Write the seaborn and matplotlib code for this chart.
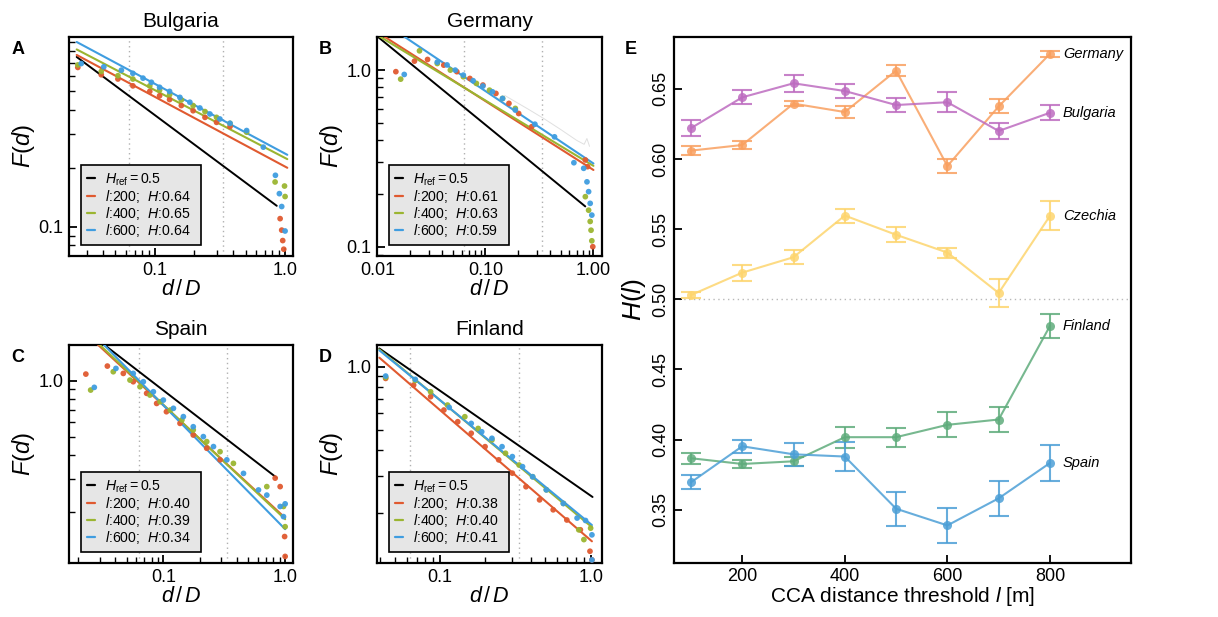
import numpy as np
import pandas as pd
import matplotlib
matplotlib.use("Agg")
import matplotlib.pyplot as plt
import seaborn as sns
from matplotlib.lines import Line2D
from matplotlib.ticker import FixedLocator, FixedFormatter, LogLocator, NullFormatter

# ---------------- data: panel A (Bulgaria) ----------------
BG_D_200 = [0.0257, 0.0389, 0.0522, 0.068, 0.0916, 0.109, 0.130, 0.160, 0.197, 0.243, 0.298, 0.378, 0.916, 0.942, 0.959, 0.977]
BG_F_200 = [0.662, 0.607, 0.577, 0.532, 0.498, 0.473, 0.452, 0.421, 0.396, 0.366, 0.345, 0.328, 0.110, 0.096, 0.0848, 0.0765]
BG_D_400 = [0.0257, 0.0389, 0.0522, 0.068, 0.0916, 0.109, 0.130, 0.160, 0.197, 0.243, 0.298, 0.378, 0.507, 0.838, 0.99, 1.0]
BG_F_400 = [0.682, 0.631, 0.600, 0.577, 0.532, 0.506, 0.479, 0.450, 0.421, 0.392, 0.366, 0.341, 0.307, 0.170, 0.162, 0.143]
BG_D_600 = [0.0273, 0.0407, 0.0555, 0.068, 0.0813, 0.0943, 0.109, 0.130, 0.156, 0.186, 0.222, 0.265, 0.316, 0.378, 0.507, 0.681, 0.843, 0.904, 0.942, 1.0]
BG_F_600 = [0.693, 0.667, 0.641, 0.617, 0.583, 0.555, 0.523, 0.498, 0.464, 0.438, 0.409, 0.381, 0.359, 0.341, 0.313, 0.257, 0.184, 0.148, 0.127, 0.095]
BG_FIT_H = [0.64, 0.65, 0.64]
BG_FIT_AMP = [0.204, 0.226, 0.238]
BG_REF_AMP = 0.119

# ---------------- data: panel B (Germany) ----------------
DE_D_200 = [0.0148, 0.022, 0.0291, 0.0411, 0.0543, 0.0717, 0.0947, 0.125, 0.165, 0.203, 0.268, 0.841, 0.883, 0.986]
DE_F_200 = [0.98, 1.124, 1.149, 1.067, 0.98, 0.897, 0.823, 0.738, 0.648, 0.568, 0.478, 0.31, 0.284, 0.10]
DE_D_400 = [0.0164, 0.0245, 0.0358, 0.0473, 0.0624, 0.0824, 0.109, 0.144, 0.189, 0.841, 0.902, 0.933, 0.95, 0.966]
DE_F_400 = [0.889, 1.286, 1.09, 1.0, 0.917, 0.841, 0.77, 0.691, 0.607, 0.192, 0.161, 0.139, 0.124, 0.108]
DE_D_600 = [0.0177, 0.0358, 0.0441, 0.0525, 0.0624, 0.0769, 0.0947, 0.116, 0.144, 0.189, 0.287, 0.436, 0.659, 0.812, 0.871, 0.902, 0.933, 0.966]
DE_F_600 = [0.945, 1.11, 1.07, 1.0, 0.937, 0.871, 0.812, 0.754, 0.691, 0.594, 0.494, 0.419, 0.299, 0.278, 0.233, 0.205, 0.176, 0.151]
DE_GRAY_D = [0.15, 0.25, 0.35, 0.5, 0.7, 0.82, 0.87, 0.92]
DE_GRAY_F = [0.72, 0.60, 0.53, 0.46, 0.40, 0.38, 0.41, 0.37]
DE_FIT_H = [0.61, 0.63, 0.59]
DE_FIT_AMP = [0.272, 0.287, 0.296]
DE_REF_AMP = 0.155

# ---------------- data: panel C (Spain) ----------------
ES_D_200 = [0.0231, 0.0347, 0.0469, 0.0566, 0.0729, 0.0881, 0.106, 0.137, 0.176, 0.227, 0.292, 0.828, 0.91, 0.99, 1.0]
ES_F_200 = [1.085, 1.197, 1.094, 0.988, 0.857, 0.757, 0.684, 0.593, 0.514, 0.437, 0.379, 0.303, 0.273, 0.148, 0.116]
ES_D_400 = [0.0253, 0.0388, 0.0532, 0.0643, 0.0776, 0.094, 0.114, 0.142, 0.176, 0.227, 0.292, 0.376, 0.707, 0.969, 1.0]
ES_F_400 = [0.892, 1.117, 1.008, 0.929, 0.839, 0.773, 0.698, 0.618, 0.547, 0.474, 0.419, 0.363, 0.273, 0.214, 0.167]
ES_D_600 = [0.0271, 0.0408, 0.0566, 0.0685, 0.0828, 0.1, 0.121, 0.146, 0.176, 0.213, 0.258, 0.332, 0.455, 0.604, 0.707, 0.91, 0.969, 1.0]
ES_F_600 = [0.922, 1.163, 1.094, 0.988, 0.874, 0.789, 0.713, 0.644, 0.569, 0.504, 0.446, 0.379, 0.321, 0.262, 0.246, 0.214, 0.189, 0.221]
ES_FIT_H = [0.40, 0.39, 0.34]
ES_FIT_AMP = [0.186, 0.183, 0.162]
ES_REF_AMP = 0.281

# ---------------- data: panel D (Finland) ----------------
FI_D_200 = [0.0435, 0.0667, 0.0865, 0.106, 0.131, 0.161, 0.199, 0.245, 0.302, 0.372, 0.458, 0.564, 0.695, 0.855, 0.99, 1.02]
FI_F_200 = [0.880, 0.818, 0.72, 0.622, 0.547, 0.482, 0.416, 0.36, 0.311, 0.268, 0.232, 0.208, 0.186, 0.167, 0.132, 0.12]
FI_D_400 = [0.0435, 0.0684, 0.0865, 0.112, 0.146, 0.179, 0.221, 0.272, 0.335, 0.412, 0.508, 0.659, 0.834, 0.902, 1.0]
FI_F_400 = [0.89, 0.86, 0.760, 0.657, 0.578, 0.508, 0.448, 0.387, 0.34, 0.299, 0.259, 0.223, 0.167, 0.150, 0.17]
FI_D_600 = [0.0435, 0.0684, 0.115, 0.161, 0.189, 0.221, 0.258, 0.302, 0.353, 0.412, 0.508, 0.659, 0.813, 0.925, 1.02, 1.02]
FI_F_600 = [0.903, 0.871, 0.640, 0.537, 0.49, 0.456, 0.416, 0.373, 0.334, 0.299, 0.259, 0.223, 0.190, 0.185, 0.158, 0.12]
FI_FIT_H = [0.38, 0.40, 0.41]
FI_FIT_AMP = [0.149, 0.174, 0.178]
FI_REF_AMP = 0.243

THRESHOLDS = [200, 400, 600]
SCALE_MARKS = [0.063, 0.333]

# ---------------- data: panel E ----------------
L_VALUES = [100, 200, 300, 400, 500, 600, 700, 800]
GERMANY_H = [0.606, 0.610, 0.6395, 0.6335, 0.663, 0.595, 0.6375, 0.675]
GERMANY_ERR = [0.003, 0.003, 0.002, 0.004, 0.004, 0.005, 0.005, 0.002]
BULGARIA_H = [0.622, 0.644, 0.654, 0.6485, 0.6385, 0.6405, 0.620, 0.633]
BULGARIA_ERR = [0.0057, 0.005, 0.006, 0.005, 0.005, 0.007, 0.0055, 0.0055]
CZECHIA_H = [0.503, 0.519, 0.530, 0.5597, 0.546, 0.5333, 0.5045, 0.5595]
CZECHIA_ERR = [0.002, 0.0057, 0.005, 0.005, 0.0055, 0.0036, 0.0098, 0.0104]
FINLAND_H = [0.3867, 0.3826, 0.3845, 0.4017, 0.4017, 0.4105, 0.4143, 0.481]
FINLAND_ERR = [0.004, 0.003, 0.003, 0.0075, 0.0067, 0.009, 0.0087, 0.0085]
SPAIN_H = [0.3695, 0.3952, 0.3895, 0.3879, 0.3507, 0.3388, 0.3581, 0.3833]
SPAIN_ERR = [0.005, 0.0048, 0.008, 0.0106, 0.012, 0.0127, 0.0123, 0.013]

# ---------------- style ----------------
sns.set_theme(style="ticks")
plt.rcParams.update({
    "font.family": ["Liberation Sans", "DejaVu Sans"],
    "mathtext.fontset": "custom",
    "mathtext.rm": "Liberation Sans",
    "mathtext.it": "Liberation Sans:italic",
    "mathtext.bf": "Liberation Sans:bold",
    "axes.linewidth": 1.6,
    "axes.edgecolor": "black",
    "axes.labelcolor": "black",
    "text.color": "black",
    "xtick.color": "black",
    "ytick.color": "black",
    "xtick.labelcolor": "black",
    "ytick.labelcolor": "black",
})

C_RED = "#e05a30"
C_GREEN = "#9bb531"
C_BLUE = "#3f9de0"
SER_COLORS = [C_RED, C_GREEN, C_BLUE]

fig = plt.figure(figsize=(12.18, 6.17), dpi=100)
W, Hh = 1218, 617

def fax(l, t, r, b):
    return fig.add_axes([l / W, 1 - b / Hh, (r - l) / W, (b - t) / Hh])

axA = fax(69, 37, 293, 256)
axB = fax(377, 37, 602, 256)
axC = fax(69, 345, 293, 563)
axD = fax(377, 345, 602, 563)
axE = fax(674, 37, 1131, 563)

panels = [
    dict(ax=axA, title="Bulgaria", letter="A",
         series=[(BG_D_200, BG_F_200), (BG_D_400, BG_F_400), (BG_D_600, BG_F_600)],
         H=BG_FIT_H, amp=BG_FIT_AMP, ref=BG_REF_AMP,
         fit=(0.0252, 1.04), refr=(0.0252, 0.863),
         xlim=(0.022, 1.15), ylim=(0.0706, 0.95),
         xt=[0.1, 1.0], xtl=["0.1", "1.0"], yt=[0.1], ytl=["0.1"]),
    dict(ax=axB, title="Germany", letter="B",
         series=[(DE_D_200, DE_F_200), (DE_D_400, DE_F_400), (DE_D_600, DE_F_600)],
         H=DE_FIT_H, amp=DE_FIT_AMP, ref=DE_REF_AMP,
         fit=(0.0099, 1.0), refr=(0.0099, 0.84),
         xlim=(0.0099, 1.2), ylim=(0.0886, 1.54),
         xt=[0.01, 0.1, 1.0], xtl=["0.01", "0.10", "1.00"], yt=[0.1, 1.0], ytl=["0.1", "1.0"]),
    dict(ax=axC, title="Spain", letter="C",
         series=[(ES_D_200, ES_F_200), (ES_D_400, ES_F_400), (ES_D_600, ES_F_600)],
         H=ES_FIT_H, amp=ES_FIT_AMP, ref=ES_REF_AMP,
         fit=(0.02, 1.0), refr=(0.02, 0.85),
         xlim=(0.0168, 1.16), ylim=(0.107, 1.55),
         xt=[0.1, 1.0], xtl=["0.1", "1.0"], yt=[1.0], ytl=["1.0"]),
    dict(ax=axD, title="Finland", letter="D",
         series=[(FI_D_200, FI_F_200), (FI_D_400, FI_F_400), (FI_D_600, FI_F_600)],
         H=FI_FIT_H, amp=FI_FIT_AMP, ref=FI_REF_AMP,
         fit=(0.0395, 1.02), refr=(0.0395, 1.03),
         xlim=(0.0381, 1.19), ylim=(0.116, 1.27),
         xt=[0.1, 1.0], xtl=["0.1", "1.0"], yt=[1.0], ytl=["1.0"]),
]

for p in panels:
    ax = p["ax"]
    ax.set_xscale("log")
    ax.set_yscale("log")
    for xv in SCALE_MARKS:
        ax.axvline(xv, color="#b0b0b0", lw=1.0, ls=(0, (1, 2.5)), zorder=0)
    if p["letter"] == "B":
        sns.lineplot(x=DE_GRAY_D, y=DE_GRAY_F, ax=ax, color="#e0e0e0", lw=0.7, zorder=1)
    # reference line H = 0.5
    rx = np.array(p["refr"])
    sns.lineplot(x=rx, y=p["ref"] * rx ** (0.5 - 1), ax=ax, color="black", lw=1.4, zorder=3)
    # fitted lines
    fx = np.array(p["fit"])
    for h, a, c in zip(p["H"], p["amp"], SER_COLORS):
        sns.lineplot(x=fx, y=a * fx ** (h - 1), ax=ax, color=c, lw=1.5, zorder=3)
    # data points
    for (dx, fy), c in zip(p["series"], SER_COLORS):
        sns.scatterplot(x=dx, y=fy, ax=ax, color=c, s=17, edgecolor="none", alpha=0.95, zorder=4)
    ax.set_xlim(*p["xlim"])
    ax.set_ylim(*p["ylim"])
    ax.xaxis.set_major_locator(FixedLocator(p["xt"]))
    ax.xaxis.set_major_formatter(FixedFormatter(p["xtl"]))
    ax.yaxis.set_major_locator(FixedLocator(p["yt"]))
    ax.yaxis.set_major_formatter(FixedFormatter(p["ytl"]))
    ax.xaxis.set_minor_locator(LogLocator(base=10, subs=np.arange(2, 10)))
    ax.yaxis.set_minor_locator(LogLocator(base=10, subs=np.arange(2, 10)))
    ax.xaxis.set_minor_formatter(NullFormatter())
    ax.yaxis.set_minor_formatter(NullFormatter())
    ax.tick_params(which="major", direction="in", length=6, width=1.3, labelsize=13, pad=4)
    ax.tick_params(which="minor", direction="in", length=4, width=1.0)
    ax.set_title(p["title"], fontsize=15, pad=7)
    ax.set_xlabel(r"$d\,/\,D$", fontsize=15.5, labelpad=0)
    ax.set_ylabel(r"$F(d)$", fontsize=17, labelpad=1)
    handles = [Line2D([], [], color="black", lw=1.6)] + [Line2D([], [], color=c, lw=1.6) for c in SER_COLORS]
    labels = [r"$H_{\mathrm{ref}} = 0.5$"] + [
        r"$l$:%d;  $H$:%.2f  " % (t, h) for t, h in zip(THRESHOLDS, p["H"])]
    leg = ax.legend(handles, labels, loc="lower left", bbox_to_anchor=(0.052, 0.05),
                    borderaxespad=0, fontsize=10.2, handlelength=0.55, handletextpad=0.7,
                    labelspacing=0.0, borderpad=0.45, fancybox=False, frameon=True)
    leg.get_frame().set_facecolor("#e6e6e6")
    leg.get_frame().set_edgecolor("black")
    leg.get_frame().set_linewidth(1.2)
    leg.get_frame().set_alpha(1)
    leg.set_zorder(10)

# panel letters
for (x, y, s) in [(18, 49, "A"), (325, 50, "B"), (18, 357, "C"), (325, 357, "D"), (631, 50, "E")]:
    fig.text(x / W, 1 - y / Hh, s, fontsize=13, fontweight="bold", ha="center", va="center")

# ---------------- panel E ----------------
E_SERIES = [
    ("Germany", GERMANY_H, GERMANY_ERR, "#f9a060"),
    ("Bulgaria", BULGARIA_H, BULGARIA_ERR, "#bd6cc0"),
    ("Czechia", CZECHIA_H, CZECHIA_ERR, "#fdd56e"),
    ("Finland", FINLAND_H, FINLAND_ERR, "#5fac7c"),
    ("Spain", SPAIN_H, SPAIN_ERR, "#4c9fd6"),
]
axE.axhline(0.5, color="#b8b8b8", lw=1.0, ls=(0, (1, 2.5)), zorder=0)
for name, hv, ev, c in E_SERIES:
    df = pd.DataFrame({"l": L_VALUES, "H": hv})
    sns.lineplot(data=df, x="l", y="H", ax=axE, color=c, lw=1.5, alpha=0.85,
                 marker="o", markersize=6.5, markeredgewidth=0, zorder=3)
    axE.errorbar(L_VALUES, hv, yerr=ev, fmt="none", ecolor=c, elinewidth=1.5,
                 capsize=7, capthick=1.5, alpha=0.85, zorder=2)
    axE.text(825, hv[-1], name, fontsize=10.5, style="italic", ha="left", va="center")

axE.set_xlim(67, 958)
axE.set_ylim(0.312, 0.687)
axE.set_xticks([200, 400, 600, 800])
axE.set_yticks([0.35, 0.40, 0.45, 0.50, 0.55, 0.60, 0.65])
axE.set_yticklabels(["0.35", "0.40", "0.45", "0.50", "0.55", "0.60", "0.65"],
                    rotation=90, va="center")
axE.tick_params(direction="in", length=6, width=1.3, labelsize=13)
axE.set_xlabel("CCA distance threshold $l$ [m]", fontsize=15, labelpad=0)
axE.set_ylabel(r"$H(l)$", fontsize=19, labelpad=3)

fig.savefig("out.png", dpi=100)
